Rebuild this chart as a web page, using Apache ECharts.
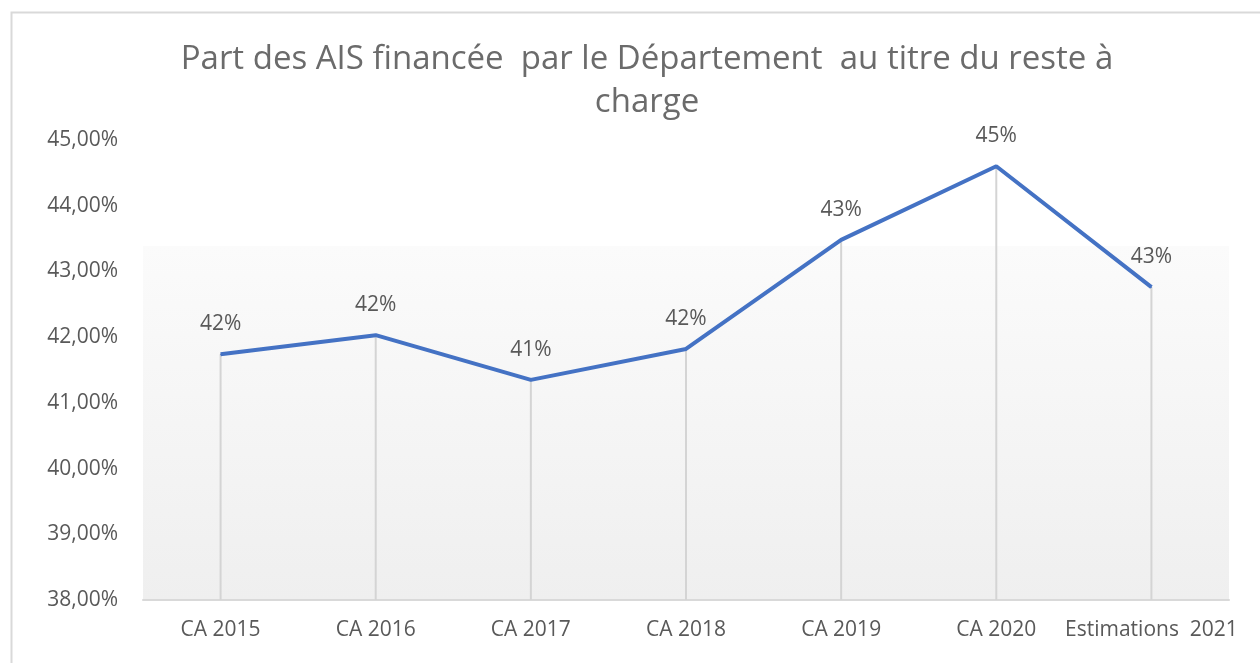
<!DOCTYPE html>
<html lang="fr">
<head>
    <meta charset="UTF-8">
    <script src="https://cdn.jsdelivr.net/npm/echarts@6/dist/echarts.min.js"></script>
    <title>Part des AIS</title>
    <style>
        html, body { margin: 0; padding: 0; background: #ffffff; }
    </style>
</head>
<body>
<div id="chart" style="width:1260px;height:663px;"></div>
<script>
    // données
    var categories = ['CA 2015', 'CA 2016', 'CA 2017', 'CA 2018', 'CA 2019', 'CA 2020', 'Estimations  2021'];
    var parts = [41.74, 42.03, 41.35, 41.82, 43.48, 44.60, 42.76];
    var yMin = 38, yMax = 45, yStep = 1;

    var myChart = echarts.init(document.getElementById('chart'));
    var grey = '#595959';

    var option = {
        backgroundColor: '#ffffff',
        animation: false,
        textStyle: { fontFamily: 'Open Sans' },
        title: {
            text: 'Part des AIS financée  par le Département  au titre du reste à\ncharge',
            left: 642,
            top: 33,
            textAlign: 'center',
            textStyle: {
                color: '#6b6b6b',
                fontSize: 33,
                fontWeight: 'normal',
                lineHeight: 43,
                fontFamily: 'Open Sans'
            }
        },
        graphic: [
            { // cadre
                type: 'rect',
                shape: { x: 11.5, y: 12.5, width: 1300, height: 700 },
                style: { fill: 'none', stroke: '#d9d9d9', lineWidth: 2 },
                silent: true
            },
            { // fond dégradé de la zone de traçage
                type: 'rect',
                z: -1,
                shape: { x: 143, y: 246, width: 1086, height: 354 },
                style: {
                    fill: new echarts.graphic.LinearGradient(0, 0, 0, 1, [
                        { offset: 0, color: '#fbfbfb' },
                        { offset: 1, color: '#efefef' }
                    ])
                },
                silent: true
            }
        ],
        grid: { left: 143, right: 31, top: 140, bottom: 63 },
        xAxis: {
            type: 'category',
            data: categories,
            boundaryGap: true,
            axisLine: { lineStyle: { color: '#d9d9d9', width: 2 } },
            axisTick: { show: false },
            axisLabel: { color: grey, fontSize: 21, margin: 20, interval: 0 }
        },
        yAxis: {
            type: 'value',
            min: yMin,
            max: yMax,
            interval: yStep,
            axisLine: { show: false },
            axisTick: { show: false },
            splitLine: { show: false },
            axisLabel: {
                color: grey,
                fontSize: 21,
                margin: 25,
                formatter: function (v) { return v.toFixed(2).replace('.', ',') + '%'; }
            }
        },
        series: [
            { // lignes de projection
                type: 'bar',
                data: parts,
                barWidth: 2,
                itemStyle: { color: '#d4d4d4' },
                silent: true
            },
            {
                type: 'line',
                data: parts,
                symbol: 'circle',
                symbolSize: 1,
                showSymbol: true,
                itemStyle: { color: '#4472c4' },
                lineStyle: { color: '#4472c4', width: 4 },
                label: {
                    show: true,
                    position: 'top',
                    distance: 19,
                    color: grey,
                    fontSize: 21,
                    formatter: function (p) { return Math.round(p.value) + '%'; }
                },
                z: 3
            }
        ]
    };
    myChart.setOption(option);
</script>
</body>
</html>
